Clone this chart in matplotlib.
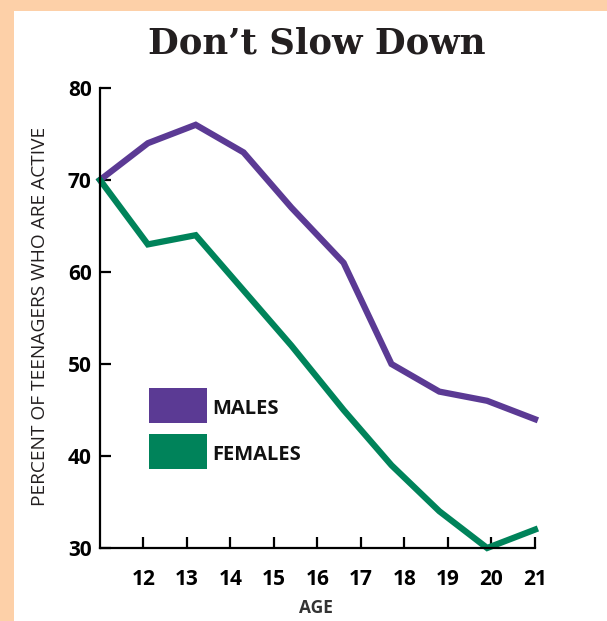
import matplotlib
matplotlib.use('Agg')
from matplotlib import pyplot as plt
from matplotlib.patches import Rectangle

# data
ages = [11.0, 12.1, 13.2, 14.3, 15.4, 16.6, 17.7, 18.8, 19.9, 21.0]
males = [70, 74, 76, 73, 67, 61, 50, 47, 46, 44]
females = [70, 63, 64, 58, 52, 45, 39, 34, 30, 32]
xtick_vals = [12, 13, 14, 15, 16, 17, 18, 19, 20, 21]
ytick_vals = [30, 40, 50, 60, 70, 80]
series_names = ['MALES', 'FEMALES']

purple = '#5b3a94'
green = '#00835a'
peach = '#fdd0a8'

plt.rcParams['font.family'] = ['Open Sans', 'DejaVu Sans']

fig = plt.figure(figsize=(6.07, 6.21), dpi=100, facecolor=peach)
# white panel
fig.patches.append(Rectangle((14/607, 0), 1, 1 - 11/621, transform=fig.transFigure,
                             facecolor='white', edgecolor='none', zorder=0))

ax = fig.add_axes([100/607, 73/621, 435/607, 460/621])
ax.set_zorder(2)
ax.set_facecolor('none')
ax.plot(ages, males, color=purple, lw=4.5, solid_joinstyle='miter', clip_on=False)
ax.plot(ages, females, color=green, lw=4.5, solid_joinstyle='miter', clip_on=False)

ax.set_xlim(11, 21)
ax.set_ylim(30, 80)
ax.set_xticks(xtick_vals)
ax.set_yticks(ytick_vals)
for s in ['top', 'right']:
    ax.spines[s].set_visible(False)
for s in ['left', 'bottom']:
    ax.spines[s].set_linewidth(1.6)
ax.tick_params(axis='both', direction='in', length=8, width=1.6)
ax.tick_params(axis='x', pad=15, labelsize=15)
ax.tick_params(axis='y', pad=6, labelsize=15)
for lab in ax.get_xticklabels() + ax.get_yticklabels():
    lab.set_fontweight('bold')

# legend drawn by hand: big colour blocks with bold labels
for i, (name, col) in enumerate(zip(series_names, [purple, green])):
    top = 0.348 - i * 0.1
    ax.add_patch(Rectangle((0.113, top - 0.076), 0.133, 0.076, transform=ax.transAxes,
                           facecolor=col, edgecolor='none', clip_on=False))
    ax.text(0.258, top - 0.045, name, transform=ax.transAxes, ha='left', va='center',
            fontsize=14.5, fontweight='bold', color='#111111')

fig.text(0.522, 1 - 53/621, 'Don\u2019t Slow Down', ha='center', va='baseline',
         fontsize=25.5, fontweight='bold', family='DejaVu Serif', color='#231f20', zorder=3)
fig.text(40/607, 1 - 316/621, 'PERCENT OF TEENAGERS WHO ARE ACTIVE', rotation=90,
         ha='center', va='center', fontsize=13.8, color='#231f20', zorder=3)
fig.text(316/607, 1 - 608/621, 'AGE', ha='center', va='center', fontsize=12.5,
         fontweight='bold', color='#333333', zorder=3)

plt.savefig('out.png', dpi=100, facecolor=peach)
